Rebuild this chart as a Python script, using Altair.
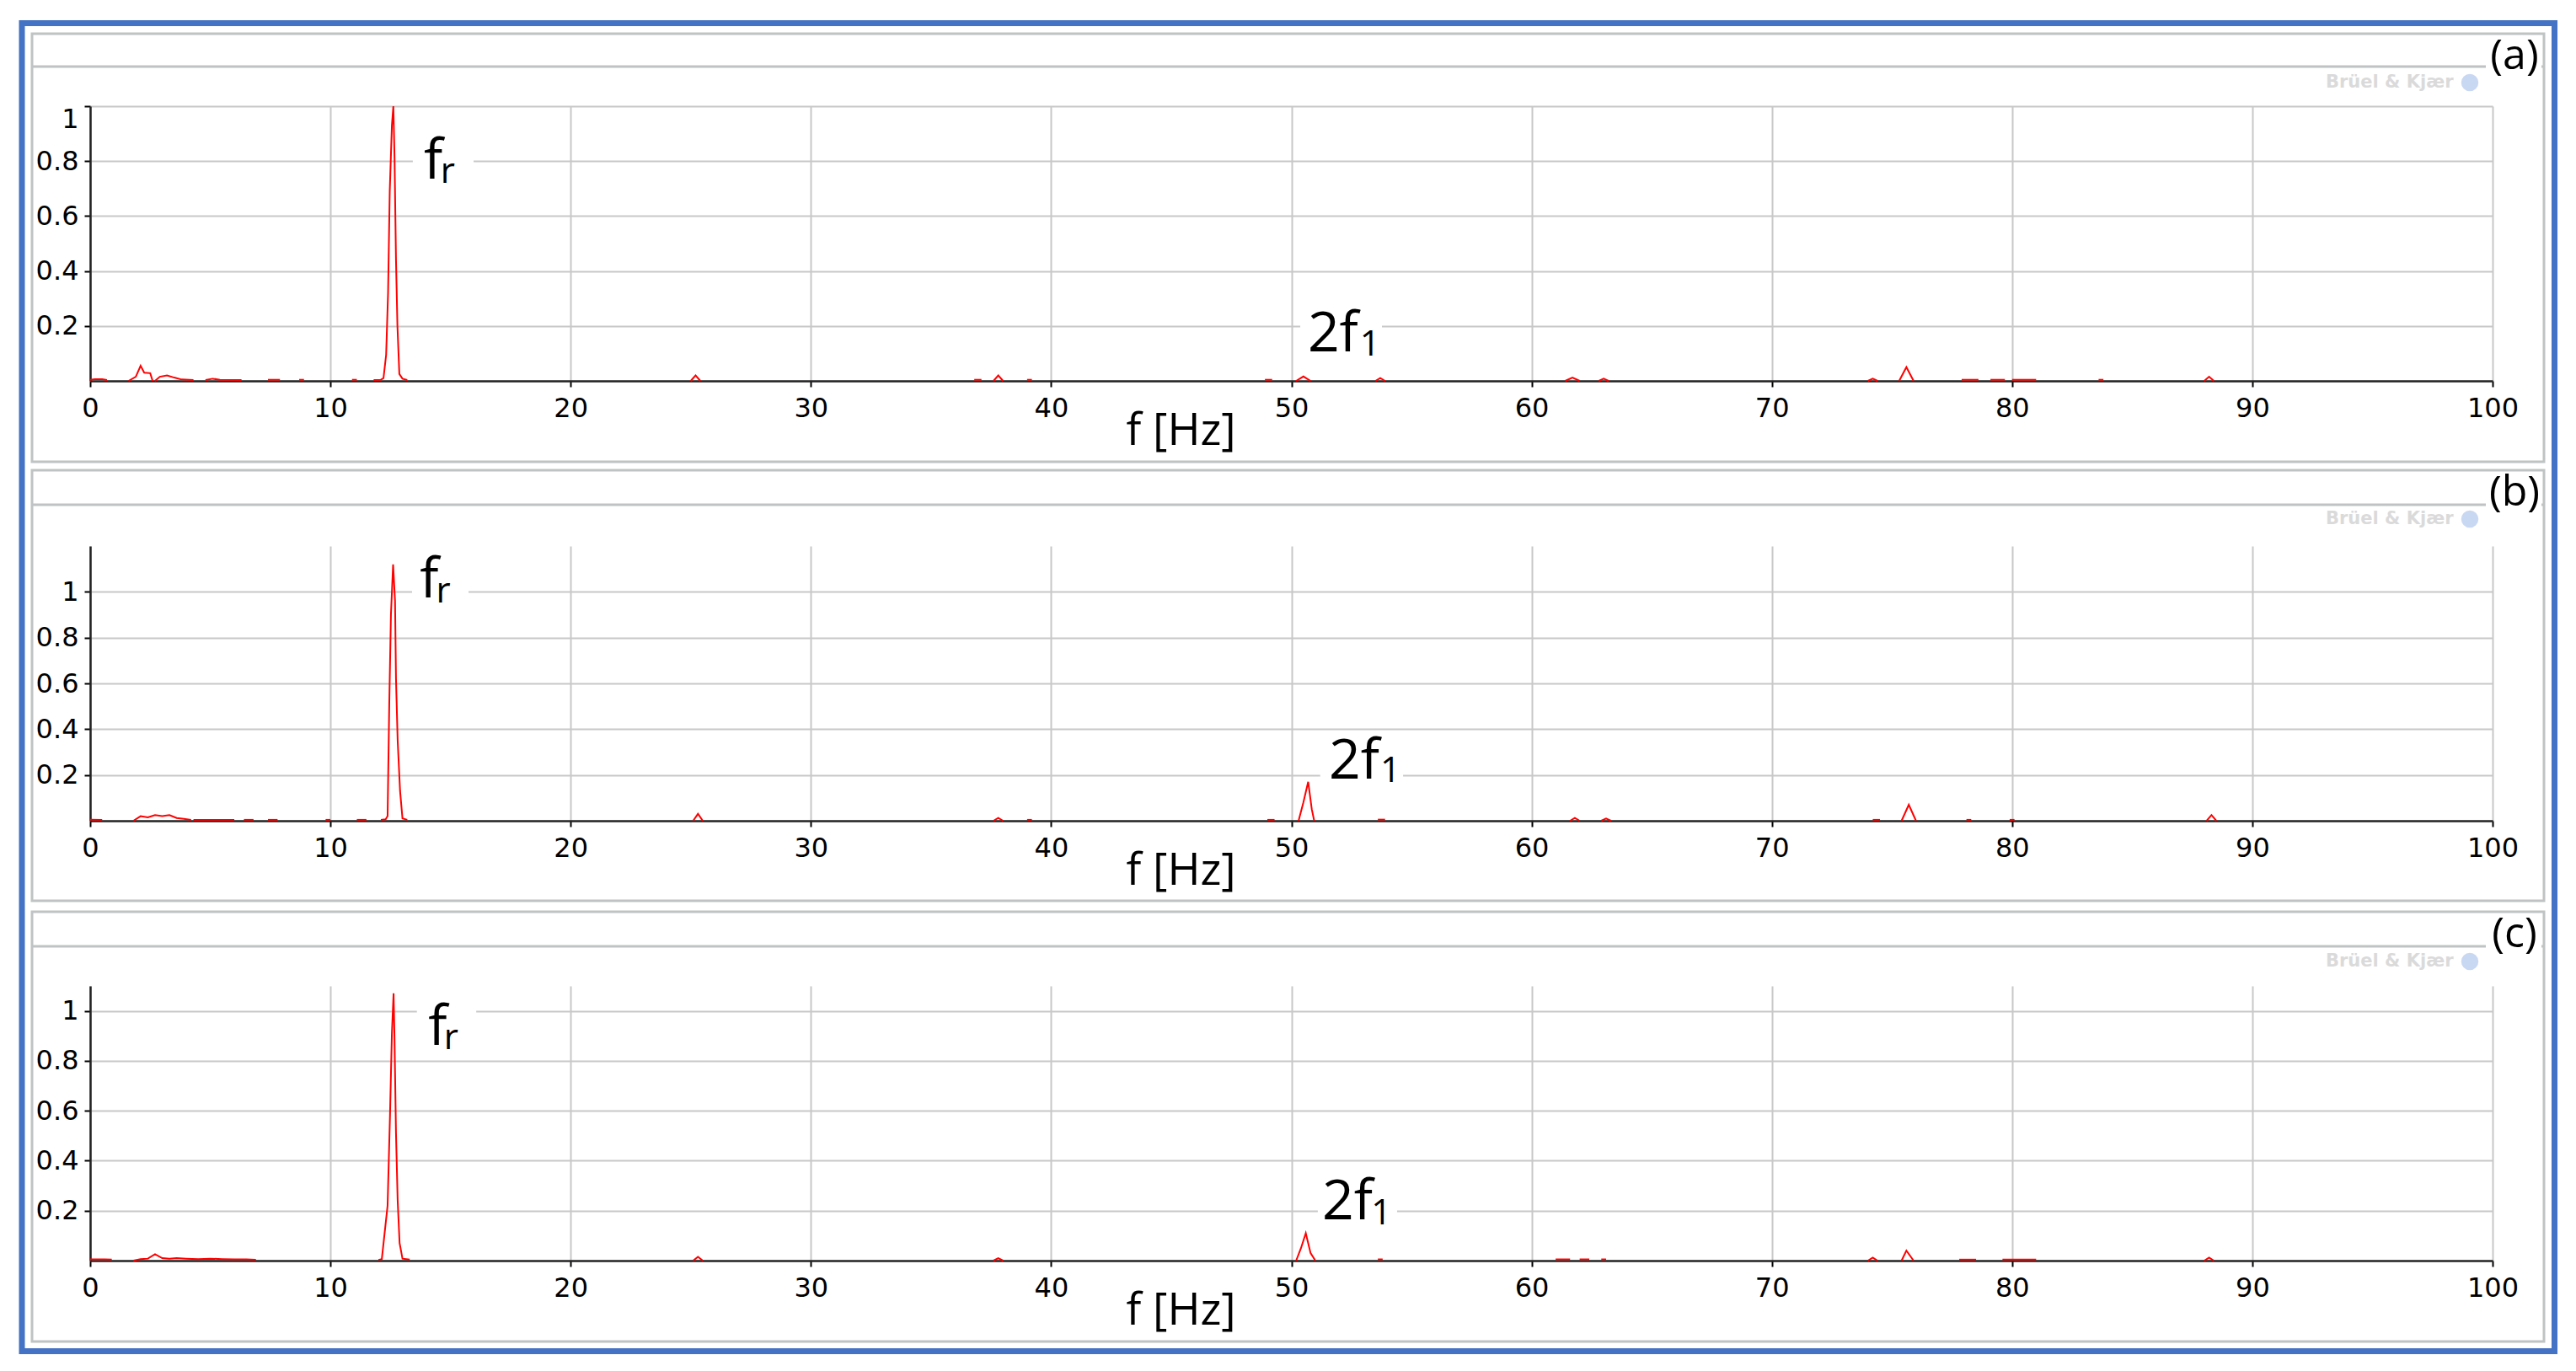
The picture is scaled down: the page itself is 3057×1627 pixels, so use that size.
import altair as alt
import pandas as pd

# ---------------- axis ticks ----------------
X_TICKS = list(range(0, 101, 10))
Y_TICKS = [0.2, 0.4, 0.6, 0.8, 1.0]
Y_MAX_A, Y_MAX_B, Y_MAX_C = 1.0, 1.2, 1.1

# ---------------- spectrum (a): list of line segments (Hz, amplitude) ----------------
A_FREQ = [
    [0.0, 0.2, 0.5, 0.7],
    [1.6, 1.9, 2.1, 2.25, 2.5, 2.6],
    [2.7, 2.9, 3.2, 3.5, 3.8, 4.3],
    [4.8, 5.1, 5.4, 6.3],
    [7.4, 7.9],
    [8.7, 8.9],
    [10.9, 11.1],
    [11.8, 12.1, 12.21, 12.32, 12.40, 12.47, 12.56, 12.62, 12.67, 12.73, 12.79, 12.87, 13.0, 13.2],
    [25.0, 25.2, 25.4],
    [36.8, 37.1],
    [37.6, 37.8, 38.0],
    [39.0, 39.2],
    [48.9, 49.2],
    [50.2, 50.5, 50.8],
    [53.5, 53.7, 53.9],
    [61.4, 61.7, 62.0],
    [62.8, 63.0, 63.2],
    [74.0, 74.2, 74.4],
    [75.3, 75.6, 75.9],
    [77.9, 78.6],
    [79.1, 79.7],
    [80.0, 81.0],
    [83.6, 83.8],
    [88.0, 88.2, 88.4],
]
A_AMP = [
    [0.004, 0.006, 0.006, 0.003],
    [0.0, 0.015, 0.055, 0.03, 0.028, 0.0],
    [0.0, 0.015, 0.02, 0.012, 0.005, 0.003],
    [0.003, 0.008, 0.004, 0.003],
    [0.004, 0.004],
    [0.004, 0.004],
    [0.004, 0.004],
    [0.003, 0.004, 0.01, 0.095, 0.32, 0.69, 0.93, 1.0, 0.81, 0.44, 0.20, 0.025, 0.008, 0.003],
    [0.0, 0.02, 0.0],
    [0.004, 0.004],
    [0.0, 0.02, 0.0],
    [0.004, 0.004],
    [0.004, 0.004],
    [0.0, 0.016, 0.0],
    [0.0, 0.01, 0.0],
    [0.0, 0.012, 0.0],
    [0.0, 0.008, 0.0],
    [0.0, 0.008, 0.0],
    [0.0, 0.05, 0.0],
    [0.004, 0.004],
    [0.004, 0.004],
    [0.004, 0.004],
    [0.004, 0.004],
    [0.0, 0.015, 0.0],
]

# ---------------- spectrum (b) ----------------
B_FREQ = [
    [0.0, 0.5],
    [1.8, 2.1, 2.4, 2.7, 3.0, 3.3, 3.6, 3.9, 4.2],
    [4.3, 6.0],
    [6.4, 6.8],
    [7.4, 7.8],
    [9.8, 10.0],
    [11.1, 11.5],
    [12.1, 12.3, 12.38, 12.45, 12.52, 12.61, 12.69, 12.73, 12.8, 12.9, 13.0, 13.2],
    [25.1, 25.3, 25.5],
    [37.6, 37.8, 38.0],
    [39.0, 39.2],
    [49.0, 49.3],
    [50.3, 50.5, 50.7, 50.85, 50.95],
    [53.6, 53.9],
    [61.6, 61.8, 62.0],
    [62.9, 63.1, 63.3],
    [74.2, 74.5],
    [75.4, 75.7, 76.0],
    [78.1, 78.3],
    [79.9, 80.1],
    [88.1, 88.3, 88.5],
]
B_AMP = [
    [0.005, 0.004],
    [0.0, 0.02, 0.015, 0.025, 0.02, 0.025, 0.012, 0.008, 0.004],
    [0.004, 0.004],
    [0.004, 0.004],
    [0.004, 0.004],
    [0.004, 0.004],
    [0.004, 0.004],
    [0.004, 0.006, 0.02, 0.51, 0.9, 1.12, 0.96, 0.62, 0.35, 0.13, 0.01, 0.004],
    [0.0, 0.03, 0.0],
    [0.0, 0.012, 0.0],
    [0.004, 0.004],
    [0.004, 0.004],
    [0.0, 0.08, 0.17, 0.05, 0.0],
    [0.005, 0.005],
    [0.0, 0.012, 0.0],
    [0.0, 0.01, 0.0],
    [0.004, 0.004],
    [0.0, 0.07, 0.0],
    [0.004, 0.004],
    [0.004, 0.004],
    [0.0, 0.025, 0.0],
]

# ---------------- spectrum (c) ----------------
C_FREQ = [
    [0.0, 0.3, 0.6, 0.9],
    [1.8, 2.1, 2.4, 2.7, 3.0, 3.3, 3.6, 4.0, 4.5, 5.0, 5.5, 6.0, 6.5, 6.9],
    [12.0, 12.14, 12.38, 12.48, 12.56, 12.63, 12.67, 12.73, 12.8, 12.88, 13.0, 13.3],
    [25.1, 25.3, 25.5],
    [37.6, 37.8, 38.0],
    [50.2, 50.4, 50.6, 50.8, 51.0],
    [53.6, 53.8],
    [61.0, 61.6],
    [62.0, 62.4],
    [62.9, 63.1],
    [74.0, 74.2, 74.4],
    [75.4, 75.6, 75.9],
    [77.8, 78.5],
    [79.6, 81.0],
    [88.0, 88.2, 88.4],
]
C_AMP = [
    [0.005, 0.005, 0.005, 0.004],
    [0.0, 0.006, 0.008, 0.026, 0.01, 0.008, 0.01, 0.008, 0.006, 0.008, 0.006, 0.005, 0.005, 0.003],
    [0.003, 0.006, 0.22, 0.58, 0.91, 1.07, 0.88, 0.51, 0.24, 0.07, 0.008, 0.004],
    [0.0, 0.015, 0.0],
    [0.0, 0.01, 0.0],
    [0.0, 0.05, 0.11, 0.03, 0.0],
    [0.005, 0.005],
    [0.005, 0.005],
    [0.005, 0.005],
    [0.005, 0.005],
    [0.0, 0.012, 0.0],
    [0.0, 0.04, 0.0],
    [0.004, 0.004],
    [0.004, 0.004],
    [0.0, 0.012, 0.0],
]

# ---------------- annotations ----------------
LBL_TEXT = ["f", "r", "2f", "1"]
LBL_SIZE = [66, 42, 66, 42]
A_LBL_X = [13.89, 14.58, 50.68, 52.85]
A_LBL_Y = [0.735, 0.72, 0.108, 0.092]
B_LBL_X = [13.72, 14.40, 51.56, 53.70]
B_LBL_Y = [0.975, 0.953, 0.184, 0.169]
C_LBL_X = [14.07, 14.72, 51.28, 53.32]
C_LBL_Y = [0.864, 0.847, 0.167, 0.146]

# white boxes behind the annotations (interrupt the grid lines)
A_BOX = {"f": [13.43, 50.37], "f2": [15.96, 53.77], "a": [0.70, 0.10], "a2": [0.90, 0.27]}
B_BOX = {"f": [13.40, 51.20], "f2": [15.75, 54.65], "a": [0.93, 0.15], "a2": [1.15, 0.33]}
C_BOX = {"f": [13.60, 51.10], "f2": [16.07, 54.40], "a": [0.82, 0.13], "a2": [1.03, 0.30]}

PANEL_TAGS = ["(a)", "(b)", "(c)"]
X_TITLE = "f [Hz]"
WATERMARK = "Brüel & Kjær"

# ---------------- style ----------------
TICK_FONT = "DejaVu Sans"
ANN_FONT = "Open Sans"
RED = "#FF0000"
GRID = "#C8C8C8"
FRAME_GRAY = "#BFC3C3"
BLUE = "#4472C4"

PLOT_W = 2851
PLOT_H = 326
SPACING = 196
ORIGIN_X = 107
ORIGIN_Y = [126, 126 + PLOT_H + SPACING, 126 + 2 * (PLOT_H + SPACING)]

ONE = pd.DataFrame({"k": [0]})


def seg_df(freqs, amps):
    rows = []
    for i, (fs, ams) in enumerate(zip(freqs, amps)):
        for f, a in zip(fs, ams):
            rows.append({"f": f, "a": a, "seg": i})
    return pd.DataFrame(rows)


def x_enc(field="f"):
    return alt.X(
        f"{field}:Q",
        scale=alt.Scale(domain=[0, 100], nice=False, zero=False),
        axis=alt.Axis(
            values=X_TICKS, format="d", labelFlush=False,
            labelFont=TICK_FONT, labelFontSize=32, labelColor="black", labelPadding=10,
            tickColor="black", tickSize=7, tickWidth=2,
            domainColor="#222222", domainWidth=2.5,
            grid=True, gridColor=GRID, gridWidth=2,
            title=X_TITLE, titleFont=ANN_FONT, titleFontSize=53, titleFontWeight="normal",
            titleColor="black", titleX=1229, titleY=75, titleAlign="left",
            titleBaseline="alphabetic",
        ),
    )


def y_enc(ymax, field="a"):
    return alt.Y(
        f"{field}:Q",
        scale=alt.Scale(domain=[0, ymax], nice=False, zero=True),
        axis=alt.Axis(
            values=Y_TICKS, format="~g", labelFlush=True,
            labelFont=TICK_FONT, labelFontSize=32, labelColor="black", labelPadding=7,
            tickColor="black", tickSize=7, tickWidth=2,
            domainColor="#222222", domainWidth=2.5,
            grid=True, gridColor=GRID, gridWidth=2, title=None,
        ),
    )


def decorations(idx, box_top, box_bot, header_y, tag_base, wm_y):
    ox, oy = ORIGIN_X, ORIGIN_Y[idx]
    layers = []
    # panel frame
    layers.append(alt.Chart(ONE).mark_rect(fill=None, stroke=FRAME_GRAY, strokeWidth=3).encode(
        x=alt.value(38 - ox), x2=alt.value(3019 - ox),
        y=alt.value(box_top - oy), y2=alt.value(box_bot - oy)))
    # header separator
    layers.append(alt.Chart(ONE).mark_rule(color=FRAME_GRAY, strokeWidth=3).encode(
        x=alt.value(38 - ox), x2=alt.value(3019 - ox), y=alt.value(header_y - oy)))
    # white patch behind tag
    layers.append(alt.Chart(ONE).mark_rect(fill="white").encode(
        x=alt.value(2950 - ox), x2=alt.value(3016 - ox),
        y=alt.value(tag_base - 40 - oy), y2=alt.value(tag_base + 12 - oy)))
    layers.append(alt.Chart(ONE).mark_text(
        text=PANEL_TAGS[idx], font=ANN_FONT, fontSize=50, color="black",
        align="center", baseline="alphabetic").encode(
        x=alt.value(2984 - ox), y=alt.value(tag_base - oy)))
    # watermark
    layers.append(alt.Chart(ONE).mark_text(
        text=WATERMARK, font=TICK_FONT, fontSize=21, fontWeight="bold", color="#DADADA",
        align="left", baseline="middle").encode(
        x=alt.value(2760 - ox), y=alt.value(wm_y - oy)))
    layers.append(alt.Chart(ONE).mark_point(
        shape="circle", filled=True, color="#C9D8F2", size=420, opacity=1).encode(
        x=alt.value(2931 - ox), y=alt.value(wm_y - oy)))
    return layers


def panel(idx, freqs, amps, ymax, lbl_x, lbl_y, box, frame):
    df = seg_df(freqs, amps)
    box_df = pd.DataFrame(box)
    lbl_df = pd.DataFrame({"f": lbl_x, "a": lbl_y, "t": LBL_TEXT, "s": LBL_SIZE})

    boxes = alt.Chart(box_df).mark_rect(fill="white").encode(
        x=x_enc(), x2="f2:Q", y=y_enc(ymax), y2="a2:Q")
    line = alt.Chart(df).mark_line(color=RED, strokeWidth=2, interpolate="linear").encode(
        x=x_enc(), y=y_enc(ymax), detail="seg:N")
    texts = alt.Chart(lbl_df).mark_text(
        font=ANN_FONT, color="black", align="left", baseline="alphabetic").encode(
        x=x_enc(), y=y_enc(ymax), text="t:N",
        size=alt.Size("s:Q", scale=None, legend=None))

    layers = decorations(idx, *frame)
    if idx == 0:
        ox, oy = ORIGIN_X, ORIGIN_Y[0]
        # outer blue frame
        layers.append(alt.Chart(ONE).mark_rect(fill=None, stroke=BLUE, strokeWidth=7).encode(
            x=alt.value(26 - ox), x2=alt.value(3031.5 - ox),
            y=alt.value(27.5 - oy), y2=alt.value(1603.5 - oy)))
        # invisible page extent
        layers.append(alt.Chart(ONE).mark_rect(fill="white", opacity=0).encode(
            x=alt.value(8 - ox), x2=alt.value(3043 - ox),
            y=alt.value(8 - oy), y2=alt.value(1608 - oy)))
    return alt.layer(*layers, boxes, line, texts).properties(width=PLOT_W, height=PLOT_H)


pa = panel(0, A_FREQ, A_AMP, Y_MAX_A, A_LBL_X, A_LBL_Y, A_BOX, (40, 548, 79, 82, 98))
pb = panel(1, B_FREQ, B_AMP, Y_MAX_B, B_LBL_X, B_LBL_Y, B_BOX, (558, 1069, 599, 600, 616))
pc = panel(2, C_FREQ, C_AMP, Y_MAX_C, C_LBL_X, C_LBL_Y, C_BOX, (1082, 1592, 1123, 1124, 1141))

chart = alt.vconcat(pa, pb, pc, spacing=SPACING, bounds="flush").properties(
    padding=0, background="white"
).configure_view(stroke=None)

chart.save("out.html", embed_options={"renderer": "svg", "actions": False})
